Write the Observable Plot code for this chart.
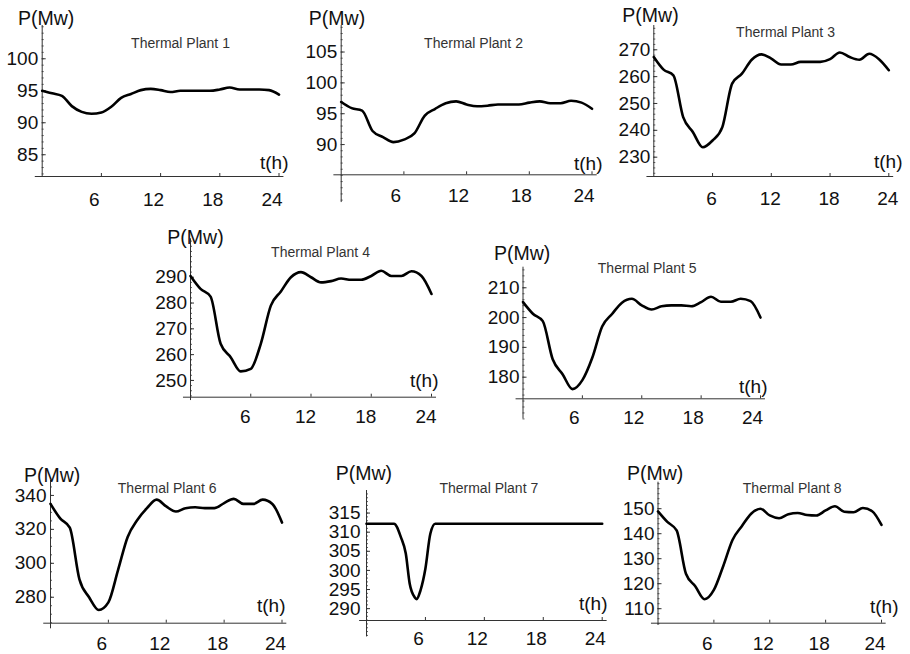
<!DOCTYPE html>
<html>
<head>
<meta charset="utf-8">
<script src="https://cdn.jsdelivr.net/npm/d3@7"></script>
<script src="https://cdn.jsdelivr.net/npm/@observablehq/plot@0.6"></script>
<style>
html, body { margin: 0; padding: 0; background: #fff; }
#chart { position: relative; width: 910px; height: 654px; overflow: hidden; background: #fff; }
#chart svg { position: absolute; }
</style>
</head>
<body>
<div id="chart"></div>
<script>
// ---------- data ----------
const hours = [0,1,2,3,4,5,6,7,8,9,10,11,12,13,14,15,16,17,18,19,20,21,22,23,24];
const plant1 = [95.0,94.6,94.2,92.6,91.7,91.4,91.6,92.5,93.9,94.5,95.1,95.3,95.1,94.8,95.0,95.0,95.0,95.0,95.2,95.5,95.2,95.2,95.2,95.1,94.4];
const plant2 = [96.9,95.9,95.5,92.2,91.2,90.4,90.8,91.8,94.7,95.8,96.7,97.0,96.5,96.2,96.3,96.5,96.5,96.5,96.8,97.0,96.7,96.7,97.1,96.8,95.8];
const plant3 = [267.3,262.6,260.5,244.9,239.3,233.7,236.2,241.2,257.4,261.1,266.3,268.3,266.7,264.5,264.5,265.5,265.5,265.5,266.5,269.0,267.3,266.3,268.5,266.5,262.4];
const plant4 = [290.5,285.5,282.5,264.2,259.0,253.5,254.5,264.2,279.0,284.5,290.0,292.0,290.0,288.0,288.5,289.5,289.0,289.0,290.5,292.5,290.5,290.5,292.3,290.5,283.5];
const plant5 = [205.2,201.3,198.8,186.0,181.0,176.0,179.0,186.5,197.0,201.2,205.0,206.3,204.1,202.7,203.8,204.1,204.1,203.8,205.2,207.0,205.3,205.3,206.3,205.5,200.0];
const plant6 = [335.0,326.5,321.0,290.5,280.0,272.5,277.0,296.0,315.5,325.5,332.5,337.5,333.5,330.5,332.5,333.0,332.5,332.5,335.5,338.0,335.0,335.0,337.5,335.0,324.0];
const plant7Hours = [0,2.8,3.5,4,4.4,4.9,5.1,5.5,6,6.5,7,24];
const plant7 = [312.2,312.2,308.7,304.4,296.5,293.0,292.5,294.8,300.5,309.6,312.2,312.2];
const plant8 = [148.9,144.7,141.3,124.0,119.0,113.8,117.5,127.0,137.5,143.0,148.0,150.0,147.3,146.2,147.8,148.3,147.5,147.3,149.3,151.0,148.8,148.6,150.3,149.0,143.5];

const titles = ["Thermal Plant 1","Thermal Plant 2","Thermal Plant 3","Thermal Plant 4",
                "Thermal Plant 5","Thermal Plant 6","Thermal Plant 7","Thermal Plant 8"];
const yLabel = "P(Mw)";
const xLabel = "t(h)";
const xTicks = [6, 12, 18, 24];
const yTicks1 = [85, 90, 95, 100];
const yTicks2 = [90, 95, 100, 105];
const yTicks3 = [230, 240, 250, 260, 270];
const yTicks4 = [250, 260, 270, 280, 290];
const yTicks5 = [180, 190, 200, 210];
const yTicks6 = [280, 300, 320, 340];
const yTicks7 = [290, 295, 300, 305, 310, 315];
const yTicks8 = [110, 120, 130, 140, 150];

// ---------- layout (pixel placement only) ----------
const FONT = '"Liberation Sans", Arial, Helvetica, sans-serif';
const AXIS = "#333";
const panels = [
  {name: titles[0], t: hours, v: plant1, yTicks: yTicks1, minorStep: 1, yAxisLow: 81.6,
   box: [0, 0, 300, 215], xRange: [41.7, 278.5], yDomain: [81.6, 105.2], yRange: [176, 25],
   yLabDx: -4, xLabDx: -7, xLabDy: 23, pMw: [45.7, 18.5], title: [180, 43], tH: [288, 162]},
  {name: titles[1], t: hours, v: plant2, yTicks: yTicks2, minorStep: 1, yAxisLow: 80.6,
   box: [300, 0, 305, 215], xRange: [340.7, 591.5], yDomain: [85.1, 109.3], yRange: [174.3, 25],
   yLabDx: -4, xLabDx: -8, xLabDy: 20.7, pMw: [336.5, 18], title: [473, 43], tH: [602, 163]},
  {name: titles[2], t: hours, v: plant3, yTicks: yTicks3, minorStep: 2, yAxisLow: 222.8,
   box: [605, 0, 305, 215], xRange: [653.3, 888.3], yDomain: [222.8, 279.05], yRange: [176, 25],
   yLabDx: -3.5, xLabDx: -1, xLabDy: 22.3, pMw: [650, 15], title: [785, 31.7], tH: [902, 161.7]},
  {name: titles[3], t: hours, v: plant4, yTicks: yTicks4, minorStep: 2, yAxisLow: 242.2,
   box: [150, 222, 300, 215], xRange: [190, 431], yDomain: [243.5, 304.9], yRange: [396.7, 238.3],
   yLabDx: -3.5, xLabDx: -5.5, xLabDy: 20, pMw: [195, 237.5], title: [320, 251.7], tH: [438, 380]},
  {name: titles[4], t: hours, v: plant5, yTicks: yTicks5, minorStep: 2, yAxisLow: 166,
   box: [470, 235, 310, 200], xRange: [522.5, 760], yDomain: [172.75, 216.9], yRange: [398.3, 266.7],
   yLabDx: -3.5, xLabDx: -8, xLabDy: 19.5, pMw: [521.7, 253.3], title: [646.7, 268.3], tH: [767, 386.7]},
  {name: titles[5], t: hours, v: plant6, yTicks: yTicks6, minorStep: 5, yAxisLow: 261.4,
   box: [0, 455, 300, 199], xRange: [50, 281.5], yDomain: [264.7, 348.8], yRange: [622.7, 480],
   yLabDx: -4, xLabDx: -6.5, xLabDy: 20.6, pMw: [51.7, 475], title: [166.7, 487.7], tH: [285, 605]},
  {name: titles[6], t: plant7Hours, v: plant7, yTicks: yTicks7, minorStep: 1, yAxisLow: 282.6,
   box: [300, 455, 310, 199], xRange: [366, 601.7], yDomain: [286.9, 320.9], yRange: [620, 490],
   yLabDx: -6, xLabDx: -7, xLabDy: 18.3, pMw: [363.3, 473.3], title: [488.3, 488.3], tH: [607, 603.3]},
  {name: titles[7], t: hours, v: plant8, yTicks: yTicks8, minorStep: 2, yAxisLow: 103.3,
   box: [610, 455, 300, 199], xRange: [657.5, 881], yDomain: [104.2, 160.6], yRange: [622.7, 481.7],
   yLabDx: -3.5, xLabDx: -6.5, xLabDy: 20.6, pMw: [654.7, 473.3], title: [791.7, 487.7], tH: [898, 606.7]}
];

const root = document.getElementById("chart");
for (const p of panels) {
  const [L, T, W, H] = p.box;
  const data = p.t.map((t, i) => ({t, v: p.v[i]}));
  const [lo, hi] = p.yDomain;
  const minor = d3.range(Math.ceil(p.yAxisLow / p.minorStep) * p.minorStep, hi + 1e-9, p.minorStep);
  const svg = Plot.plot({
    width: W, height: H,
    marginTop: 0, marginRight: 0, marginBottom: 0, marginLeft: 0,
    style: {background: "transparent", fontFamily: FONT, overflow: "visible"},
    x: {domain: [0, 24], range: [p.xRange[0] - L, p.xRange[1] - L], axis: null},
    y: {domain: p.yDomain, range: [p.yRange[0] - T, p.yRange[1] - T], axis: null},
    marks: [
      Plot.ruleY([lo], {y: d => d, x1: -0.7, x2: 24.5, stroke: AXIS, strokeWidth: 1}),
      Plot.ruleX([0], {x: d => d, y1: p.yAxisLow, y2: hi, stroke: AXIS, strokeWidth: 1}),
      Plot.ruleY(minor, {y: d => d, x1: 0, x2: 0, insetRight: -2, stroke: AXIS, strokeWidth: 0.8}),
      Plot.ruleY(p.yTicks, {y: d => d, x1: 0, x2: 0, insetRight: -4, stroke: AXIS, strokeWidth: 1}),
      Plot.ruleX(xTicks, {x: d => d, y1: lo, y2: lo, insetBottom: 3, stroke: AXIS, strokeWidth: 1}),
      Plot.text(p.yTicks, {x: 0, y: d => d, text: d => String(d), textAnchor: "end", lineAnchor: "middle",
        dx: p.yLabDx, fontSize: 19, fill: "#111"}),
      Plot.text(xTicks, {x: d => d, y: lo, text: d => String(d), textAnchor: "middle", lineAnchor: "middle",
        dx: p.xLabDx, dy: p.xLabDy, fontSize: 19, fill: "#111"}),
      Plot.text([yLabel], {frameAnchor: "top-left", text: d => d, textAnchor: "middle", lineAnchor: "middle",
        dx: p.pMw[0] - L, dy: p.pMw[1] - T, fontSize: 19.5, fill: "#111"}),
      Plot.text([p.name], {frameAnchor: "top-left", text: d => d, textAnchor: "middle", lineAnchor: "middle",
        dx: p.title[0] - L, dy: p.title[1] - T, fontSize: 14, fill: "#333"}),
      Plot.text([xLabel], {frameAnchor: "top-left", text: d => d, textAnchor: "end", lineAnchor: "middle",
        dx: p.tH[0] - L, dy: p.tH[1] - T, fontSize: 19, fill: "#111"}),
      Plot.line(data, {x: "t", y: "v", curve: "monotone-x", stroke: "#000", strokeWidth: 2.6})
    ]
  });
  svg.style.position = "absolute";
  svg.style.left = L + "px";
  svg.style.top = T + "px";
  root.appendChild(svg);
}
</script>
</body>
</html>
